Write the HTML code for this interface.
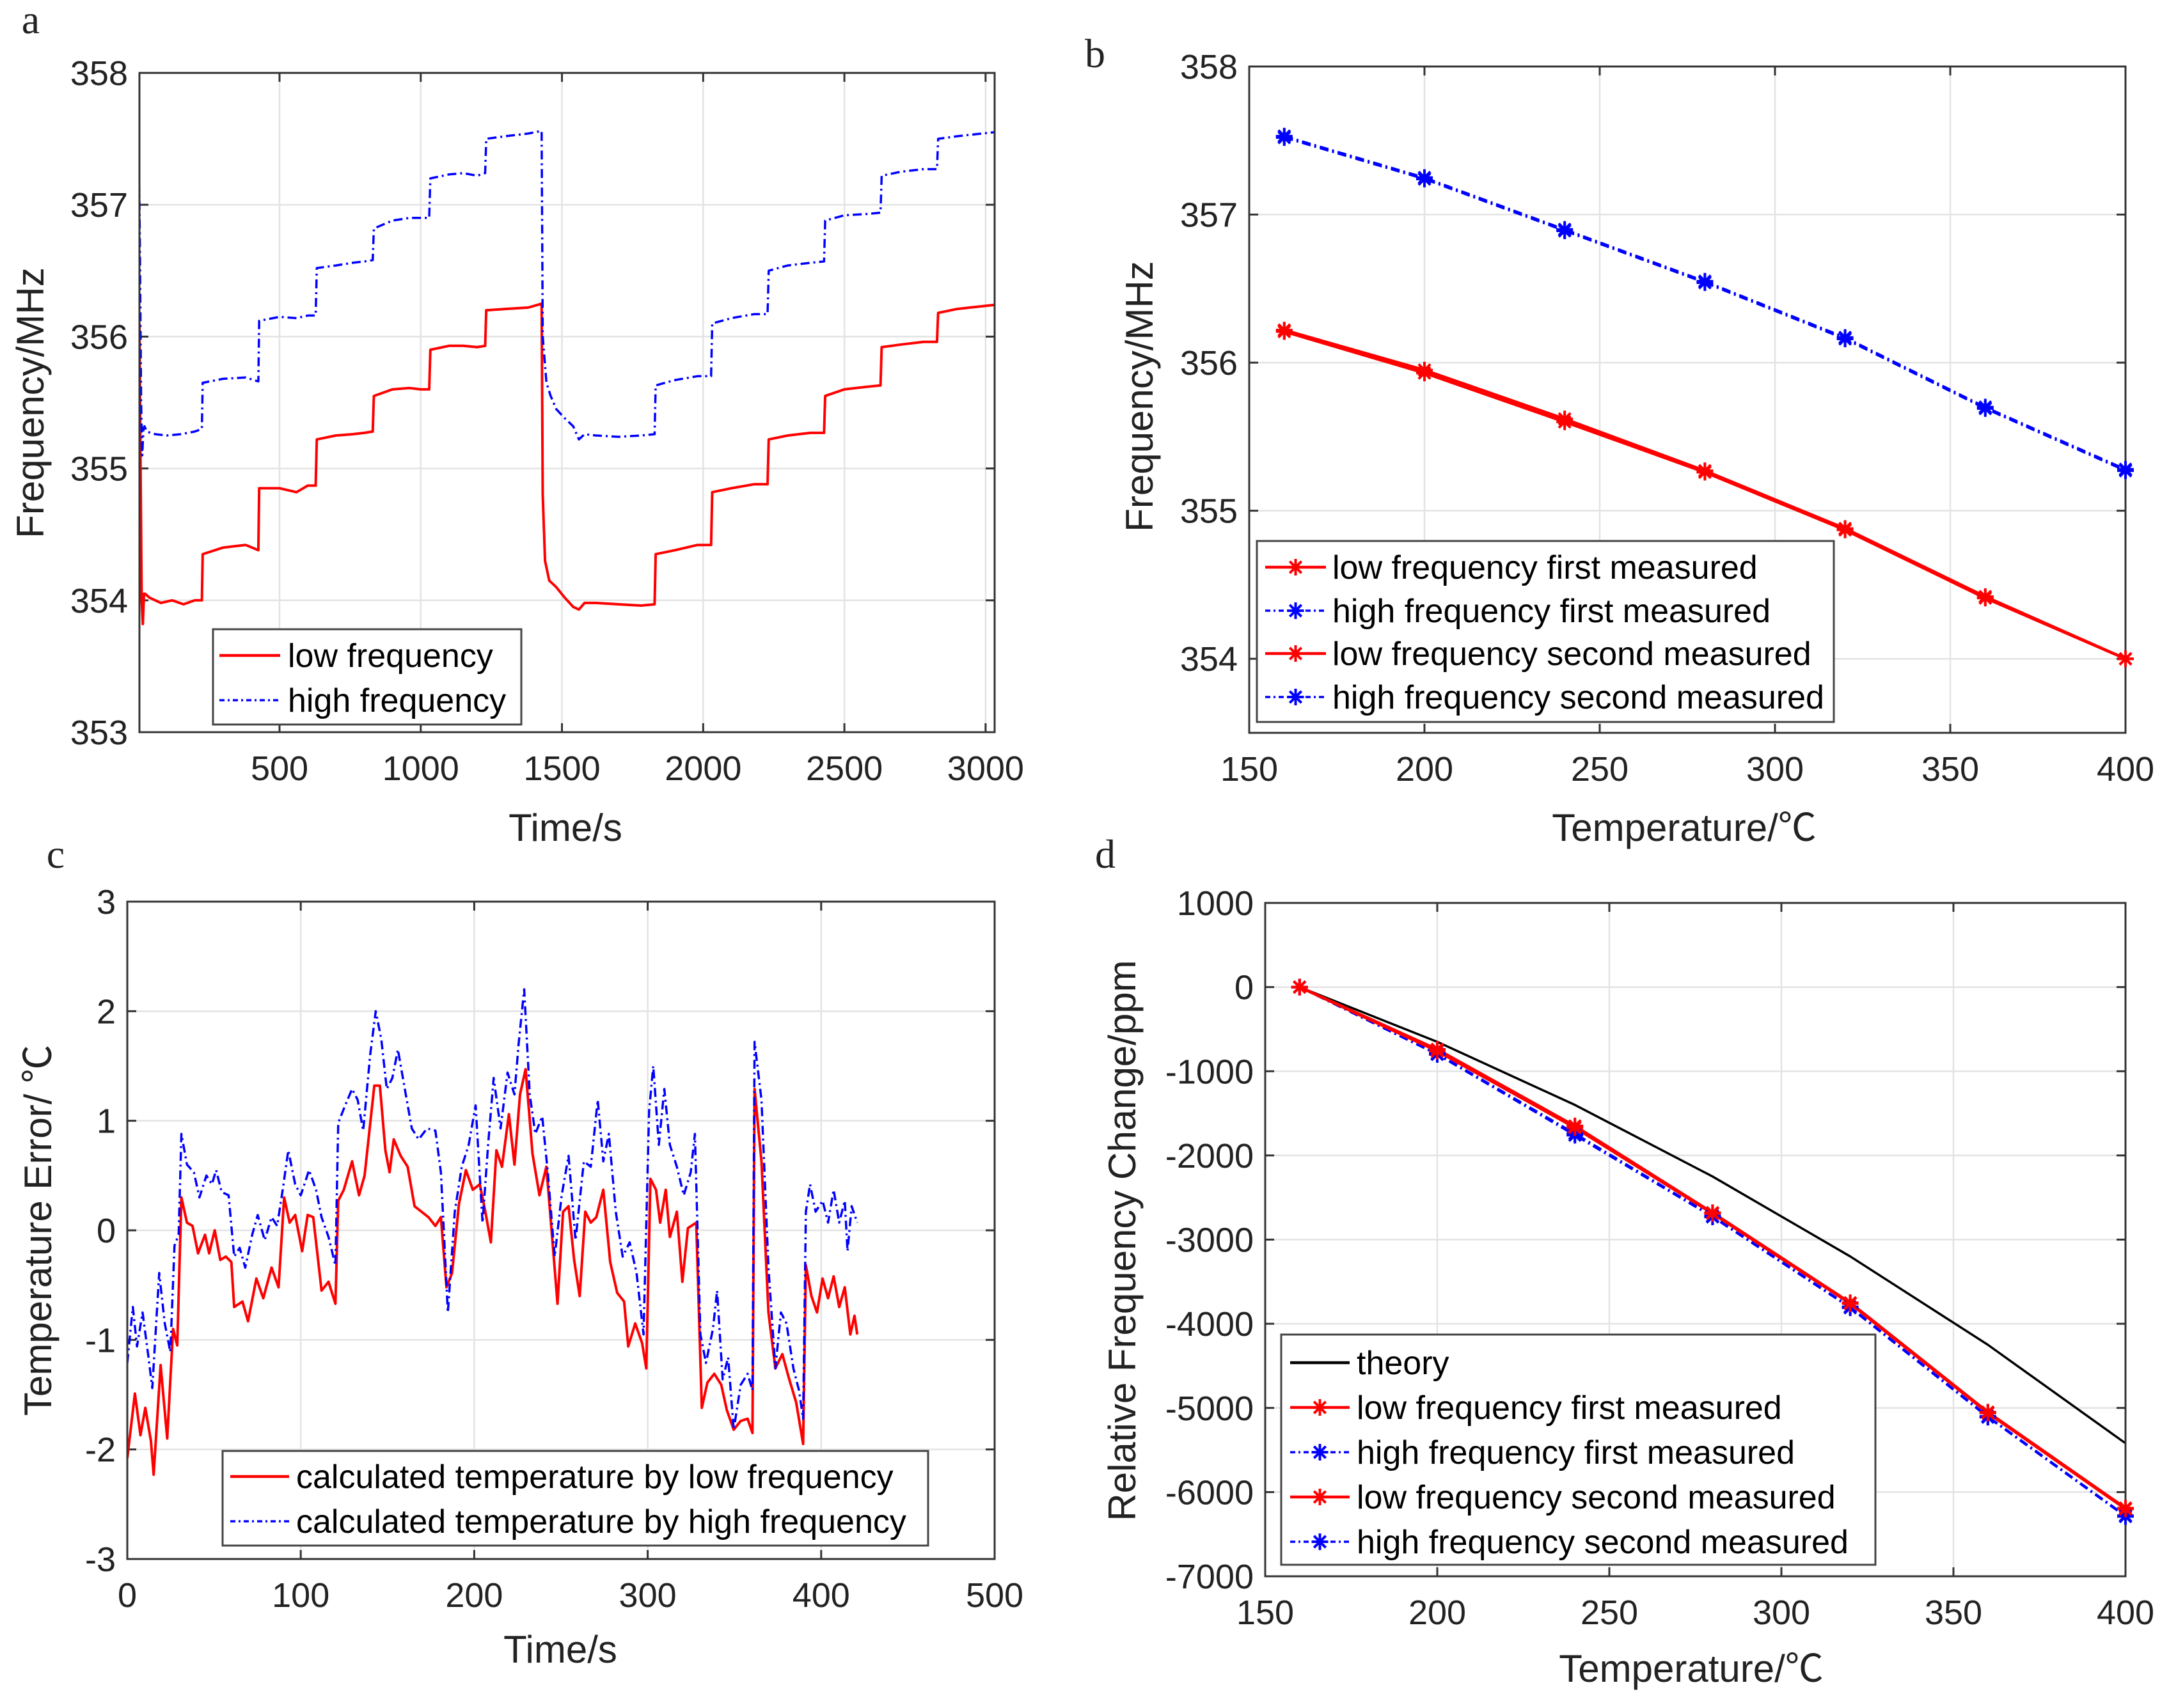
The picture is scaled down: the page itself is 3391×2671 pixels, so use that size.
<!DOCTYPE html>
<html><head><meta charset="utf-8">
<style>
html,body{margin:0;padding:0;background:#fff;}
svg{display:block;font-family:"Liberation Sans",Arial,sans-serif;}
</style></head>
<body>
<svg id="fig" width="3391" height="2671" viewBox="0 0 3391 2671" xmlns="http://www.w3.org/2000/svg"></svg>
<script>
// ---------- Panel a data ----------
const aLowT = [4,8,12,16,20,24,40,80,120,160,200,225,228,300,380,425,428,500,560,600,628,632,700,760,800,830,834,900,960,1000,1030,1034,1100,1150,1200,1228,1232,1300,1380,1428,1432,1440,1455,1480,1510,1540,1560,1580,1620,1700,1780,1828,1832,1900,1980,2028,2032,2100,2180,2228,2232,2300,2380,2428,2432,2500,2580,2628,2632,2700,2780,2828,2832,2900,3030];
const aLowV = [356.1,355.0,354.0,353.82,354.05,354.05,354.02,353.98,354.0,353.97,354.0,354.0,354.35,354.4,354.42,354.38,354.85,354.85,354.82,354.87,354.87,355.22,355.25,355.26,355.27,355.28,355.55,355.6,355.61,355.6,355.6,355.9,355.93,355.93,355.92,355.93,356.2,356.21,356.22,356.25,354.8,354.3,354.15,354.1,354.02,353.95,353.93,353.98,353.98,353.97,353.96,353.97,354.35,354.38,354.42,354.42,354.82,354.85,354.88,354.88,355.22,355.25,355.27,355.27,355.55,355.6,355.62,355.63,355.92,355.94,355.96,355.96,356.18,356.21,356.24];
const aHighT = [2,6,10,14,18,22,30,60,100,150,200,225,228,300,380,425,428,500,560,600,628,632,700,760,800,830,834,900,960,1000,1030,1034,1100,1150,1200,1228,1232,1300,1380,1428,1432,1445,1460,1480,1510,1540,1560,1580,1620,1700,1780,1828,1832,1900,1980,2028,2032,2100,2180,2228,2232,2300,2380,2428,2432,2500,2580,2628,2632,2700,2780,2828,2832,2900,3030];
const aHighV = [357.45,356.6,355.5,355.1,355.3,355.32,355.28,355.26,355.25,355.26,355.28,355.3,355.65,355.68,355.69,355.66,356.12,356.15,356.14,356.16,356.16,356.52,356.54,356.56,356.57,356.58,356.82,356.88,356.9,356.9,356.9,357.2,357.23,357.24,357.22,357.24,357.5,357.52,357.54,357.56,356.0,355.65,355.55,355.45,355.38,355.32,355.22,355.26,355.25,355.24,355.25,355.26,355.63,355.67,355.7,355.7,356.1,356.14,356.17,356.17,356.5,356.54,356.56,356.57,356.88,356.92,356.93,356.94,357.22,357.25,357.27,357.27,357.5,357.52,357.55];
const aYTicks = [353,354,355,356,357,358];
const aXTicks = [500,1000,1500,2000,2500,3000];

// ---------- Panel b data ----------
const bTemps = [160,200,240,280,320,360,400];
const bLow1 = [356.22,355.95,355.62,355.27,354.88,354.42,354.00];
const bHigh1 = [357.53,357.25,356.90,356.55,356.17,355.70,355.28];
const bLow2 = [356.21,355.93,355.60,355.26,354.87,354.41,354.00];
const bHigh2 = [357.52,357.24,356.89,356.54,356.16,355.69,355.27];
const bYTicks = [354,355,356,357,358];
const bXTicks = [150,200,250,300,350,400];

// ---------- Panel c data ----------
const cLowT = [0,4.4,7.6,10.4,13.6,15.2,19.2,23,26.4,28.8,31.2,34.4,37.6,40.8,44.8,47.2,50.4,53.6,56.8,60,61.6,66.4,69.6,74.4,78.4,83.2,87.2,90.4,93.6,96.8,100.8,104,107.2,112,116,120,121.6,124.8,129.6,133.6,136.8,142.4,145.6,148.8,151.2,153.6,157.6,161.6,165.6,169.6,173.6,177.6,180.8,184,187.2,191.2,195.2,199.2,203.2,206.4,209.6,212.8,216,220,223.2,226.4,229.6,233.6,237.6,241.6,244.8,248,251.2,254.4,257.6,260.8,264,267.2,270.4,274.4,278.4,282.4,286.4,288.8,292.8,296.8,299.2,301.6,304.8,307.2,310.4,312.8,316.8,320,323.2,328,331.2,334.4,338.4,342.4,345.6,349.6,353.6,357.6,360.4,361.6,365.6,369.6,373.6,377.6,381.6,385.6,389.6,391.2,394.4,397.6,400.8,404,407.2,410.4,413.6,416.8,419.2,420.8];
const cLowV = [-2.08,-1.49,-1.87,-1.62,-1.92,-2.23,-1.23,-1.9,-0.9,-1.05,0.3,0.07,0.04,-0.21,-0.04,-0.21,0,-0.27,-0.24,-0.29,-0.7,-0.65,-0.83,-0.44,-0.62,-0.34,-0.52,0.3,0.07,0.14,-0.19,0.14,0.12,-0.55,-0.47,-0.67,0.27,0.37,0.63,0.32,0.5,1.32,1.32,0.73,0.53,0.83,0.68,0.58,0.22,0.17,0.12,0.04,0.12,-0.52,-0.39,0.24,0.55,0.37,0.42,0.17,-0.11,0.73,0.58,1.06,0.6,1.24,1.47,0.7,0.32,0.58,-0.04,-0.67,0.17,0.22,-0.27,-0.6,0.17,0.07,0.12,0.37,-0.29,-0.57,-0.65,-1.06,-0.85,-1.03,-1.26,0.47,0.37,0.07,0.37,-0.06,0.17,-0.47,0.02,0.07,-1.62,-1.39,-1.31,-1.41,-1.64,-1.82,-1.74,-1.72,-1.85,1.29,0.63,-0.75,-1.26,-1.13,-1.36,-1.57,-1.95,-0.32,-0.6,-0.75,-0.44,-0.62,-0.42,-0.7,-0.52,-0.95,-0.78,-0.95];
const cHighT = [0,3.2,5.6,8.8,12,14.4,18.4,21.6,24.8,27.2,29.6,31.2,34.4,38.4,41.6,45.6,48.8,51.2,54.4,58.4,61.6,64.8,68,72,75.2,79.2,83.2,86.4,89.6,92.8,96.8,100,104.8,108.8,112,116,120,121.6,125.6,129.6,132.8,136,140,143.2,146.4,149.6,152.8,156,160,164,168,172.8,177.6,180.8,184.8,188.8,192.8,196.8,200.8,204.8,208,211.2,215.2,219.2,223.2,225.6,228.8,232,235.2,239.2,242.4,246.4,250.4,254.4,258.4,263.2,267.2,271.2,274.4,277.6,281.6,285.6,289.6,293.6,297.6,300.8,303.2,306.4,309.6,312.8,316.8,320.8,324.8,327.2,330.4,333.6,337.6,340,343.2,346.4,349.6,353.6,357.6,360.4,361.6,365.6,369.6,373.6,376.8,380,384,387.2,389.6,391.2,393.6,396.8,400.8,404,407.2,410.4,413.6,415.2,417.6,420.8];
const cHighV = [-1.21,-0.7,-1.06,-0.75,-1.13,-1.44,-0.39,-0.85,-1.11,-0.14,-0.04,0.88,0.6,0.53,0.3,0.5,0.42,0.55,0.35,0.32,-0.24,-0.16,-0.34,-0.04,0.14,-0.09,0.12,0.04,0.37,0.73,0.42,0.32,0.55,0.37,0.12,-0.06,-0.32,0.98,1.14,1.29,1.19,0.91,1.6,2.0,1.75,1.29,1.39,1.65,1.29,0.93,0.83,0.93,0.91,0.53,-0.75,0.17,0.58,0.78,1.14,0.07,0.78,1.39,0.93,1.44,1.24,1.7,2.2,1.24,0.88,1.04,0.53,-0.24,0.32,0.68,-0.09,0.63,0.58,1.19,0.63,0.88,0.17,-0.24,-0.11,-0.39,-0.95,1.09,1.5,0.78,1.29,0.78,0.58,0.32,0.53,0.88,-0.95,-1.21,-0.9,-0.55,-1.36,-1.16,-1.82,-1.41,-1.31,-1.46,1.72,1.19,-0.34,-1.26,-0.75,-0.85,-1.26,-1.46,-1.72,0.17,0.42,0.17,0.27,0.07,0.37,0.07,0.27,-0.19,0.22,0.07];
const cYTicks = [-3,-2,-1,0,1,2,3];
const cXTicks = [0,100,200,300,400,500];

// ---------- Panel d data ----------
const dTemps = [160,200,240,280,320,360,400];
const dTheory = [0,-650,-1400,-2250,-3200,-4250,-5420];
const dLow1 = [0,-740,-1650,-2680,-3750,-5050,-6190];
const dHigh1 = [0,-790,-1740,-2720,-3800,-5100,-6280];
const dLow2 = [0,-760,-1670,-2690,-3760,-5060,-6200];
const dHigh2 = [0,-800,-1760,-2730,-3810,-5110,-6290];
const dYTicks = [-7000,-6000,-5000,-4000,-3000,-2000,-1000,0,1000];
const dXTicks = [150,200,250,300,350,400];

const NS = "http://www.w3.org/2000/svg";
const fig = document.getElementById('fig');
function mk(tag, attrs, parent){
  const e = document.createElementNS(NS, tag);
  for (const k in attrs) e.setAttribute(k, attrs[k]);
  (parent||fig).appendChild(e);
  return e;
}
const RED = "#ff0000", BLUE = "#0000ff";
const DASH = "14,6,3,6";

function makeAxes(name, box, xlim, ylim, xticks, yticks){
  const g = mk('g', {});
  
  
  const sx = v => box.l + (v - xlim[0]) / (xlim[1]-xlim[0]) * (box.r - box.l);
  const sy = v => box.b - (v - ylim[0]) / (ylim[1]-ylim[0]) * (box.b - box.t);
  const grid = mk('g', {}, g);
  
  
  xticks.forEach(t => {
    const x = sx(t);
    mk('line', {x1:x, x2:x, y1:box.t, y2:box.b, stroke:'#e3e3e3', 'stroke-width':2.5}, grid);
  });
  yticks.forEach(t => {
    const y = sy(t);
    mk('line', {x1:box.l, x2:box.r, y1:y, y2:y, stroke:'#e3e3e3', 'stroke-width':2.5}, grid);
  });
  const xt = mk('g', {}, g);
  
  
  xticks.forEach(t => {
    const x = sx(t);
    mk('line', {x1:x, x2:x, y1:box.b, y2:box.b-14, stroke:'#333', 'stroke-width':3}, xt);
    mk('line', {x1:x, x2:x, y1:box.t, y2:box.t+14, stroke:'#333', 'stroke-width':3}, xt);
    const tx = mk('text', {x:x, y:box.b+75, 'font-size':54, 'text-anchor':'middle', fill:'#222'}, xt);
    tx.textContent = t;
  });
  const yt = mk('g', {}, g);
  
  
  yticks.forEach(t => {
    const y = sy(t);
    mk('line', {x1:box.l, x2:box.l+14, y1:y, y2:y, stroke:'#333', 'stroke-width':3}, yt);
    mk('line', {x1:box.r, x2:box.r-14, y1:y, y2:y, stroke:'#333', 'stroke-width':3}, yt);
    const ty = mk('text', {x:box.l-18, y:y+19, 'font-size':54, 'text-anchor':'end', fill:'#222'}, yt);
    ty.textContent = t;
  });
  const clipId = name + '-clip';
  const cp = mk('clipPath', {id:clipId}, g);
  mk('rect', {x:box.l, y:box.t, width:box.r-box.l, height:box.b-box.t}, cp);
  const plot = mk('g', {'clip-path':'url(#'+clipId+')'}, g);
  
  
  const frame = mk('rect', {x:box.l, y:box.t, width:box.r-box.l, height:box.b-box.t, fill:'none', stroke:'#333', 'stroke-width':3}, g);
  
  
  return {g, sx, sy, plot, box};
}
function line(ax, xs, ys, color, width, dash, nm){
  const d = xs.map((x,i) => (i?'L':'M') + ax.sx(x).toFixed(1) + ' ' + ax.sy(ys[i]).toFixed(1)).join(' ');
  const p = mk('path', {d:d, fill:'none', stroke:color, 'stroke-width':width, 'stroke-linejoin':'round'}, ax.plot);
  if (dash) p.setAttribute('stroke-dasharray', dash);
  
  
  return p;
}
function star(parent, x, y, color, r){
  const g = mk('g', {stroke:color, 'stroke-width':4}, parent);
  for (let k=0;k<4;k++){
    const a = k*Math.PI/4;
    mk('line', {x1:x-r*Math.cos(a), y1:y-r*Math.sin(a), x2:x+r*Math.cos(a), y2:y+r*Math.sin(a)}, g);
  }
  return g;
}
function markers(ax, xs, ys, color, nm){
  const g = mk('g', {}, ax.g);
  
  
  xs.forEach((x,i) => {
    const m = star(g, ax.sx(x), ax.sy(ys[i]), color, 13);
    
    
  });
}
function legend(name, x, y, w, h, entries, rowY, lineL, lineR, textX){
  const g = mk('g', {});
  
  
  mk('rect', {x:x, y:y, width:w, height:h, fill:'#fff', stroke:'#444', 'stroke-width':3}, g);
  entries.forEach((e,i) => {
    const eg = mk('g', {}, g);
    
    
    const by = rowY[i];
    const ly = by - 18;
    const l = mk('line', {x1:lineL, x2:lineR, y1:ly, y2:ly, stroke:e.color, 'stroke-width':e.dash?3.5:4.5}, eg);
    if (e.dash) l.setAttribute('stroke-dasharray', '8,5,3,5');
    if (e.marker) star(eg, (lineL+lineR)/2, ly, e.color, 13);
    const t = mk('text', {x:textX, y:by, 'font-size':52, fill:'#000'}, eg);
    t.textContent = e.label;
  });
}
function label(txt, x, y, size, nm, rot, family){
  const t = mk('text', {x:x, y:y, 'font-size':size, 'text-anchor':'middle', fill:'#222'});
  if (rot) t.setAttribute('transform', 'rotate(-90 '+x+' '+y+')');
  if (family) t.setAttribute('font-family', family);
  t.textContent = txt;
  
  
  return t;
}
const SERIF = '"Liberation Serif","Times New Roman",serif';
const CJK = '"Liberation Sans","Noto Sans CJK SC",sans-serif';

// ---- Panel a ----
const A = makeAxes('panel-a', {l:218,r:1555,t:114,b:1145}, [4,3032], [353,358], aXTicks, aYTicks);
line(A, aLowT, aLowV, RED, 4, null, 'low-frequency-line');
line(A, aHighT, aHighV, BLUE, 3.5, DASH, 'high-frequency-line');
legend('panel-a-legend', 333, 984, 482, 149,
  [{label:'low frequency', color:RED}, {label:'high frequency', color:BLUE, dash:true}],
  [1043,1113], 343, 438, 450);
label('Frequency/MHz', 68, 630, 60, 'panel-a-y-axis-title', true);
label('Time/s', 884, 1315, 60, 'panel-a-x-axis-title');
label('a', 48, 52, 64, 'panel-a-label', false, SERIF);

// ---- Panel b ----
const B = makeAxes('panel-b', {l:1953,r:3323,t:104,b:1146}, [150,400], [353.5,358], bXTicks, bYTicks);
line(B, bTemps, bLow1, RED, 4.5, null, 'b-low-first-line');
line(B, bTemps, bLow2, RED, 4.5, null, 'b-low-second-line');
line(B, bTemps, bHigh1, BLUE, 3.5, DASH, 'b-high-first-line');
line(B, bTemps, bHigh2, BLUE, 3.5, DASH, 'b-high-second-line');
markers(B, bTemps, bLow1, RED, 'b-low-first-markers');
markers(B, bTemps, bLow2, RED, 'b-low-second-markers');
markers(B, bTemps, bHigh1, BLUE, 'b-high-first-markers');
markers(B, bTemps, bHigh2, BLUE, 'b-high-second-markers');
legend('panel-b-legend', 1965, 846, 902, 283,
  [{label:'low frequency first measured', color:RED, marker:true},
   {label:'high frequency first measured', color:BLUE, dash:true, marker:true},
   {label:'low frequency second measured', color:RED, marker:true},
   {label:'high frequency second measured', color:BLUE, dash:true, marker:true}],
  [905,973,1040,1108], 1978, 2073, 2083);
label('Frequency/MHz', 1802, 620, 60, 'panel-b-y-axis-title', true);
label('Temperature/℃', 2633, 1315, 60, 'panel-b-x-axis-title', false, CJK);
label('b', 1712, 105, 64, 'panel-b-label', false, SERIF);

// ---- Panel c ----
const C = makeAxes('panel-c', {l:199,r:1555,t:1410,b:2438}, [0,500], [-3,3], cXTicks, cYTicks);
line(C, cLowT, cLowV, RED, 4, null, 'c-low-frequency-line');
line(C, cHighT, cHighV, BLUE, 3.5, DASH, 'c-high-frequency-line');
legend('panel-c-legend', 348, 2269, 1103, 148,
  [{label:'calculated temperature by low frequency', color:RED},
   {label:'calculated temperature by high frequency', color:BLUE, dash:true}],
  [2327,2397], 360, 452, 463);
label('Temperature Error/ ℃', 80, 1924, 60, 'panel-c-y-axis-title', true, CJK);
label('Time/s', 876, 2600, 60, 'panel-c-x-axis-title');
label('c', 87, 1357, 64, 'panel-c-label', false, SERIF);

// ---- Panel d ----
const D = makeAxes('panel-d', {l:1978,r:3323,t:1412,b:2465}, [150,400], [-7000,1000], dXTicks, dYTicks);
line(D, dTemps, dTheory, '#000', 3.5, null, 'd-theory-line');
line(D, dTemps, dHigh1, BLUE, 3.5, DASH, 'd-high-first-line');
line(D, dTemps, dHigh2, BLUE, 3.5, DASH, 'd-high-second-line');
line(D, dTemps, dLow1, RED, 4.5, null, 'd-low-first-line');
line(D, dTemps, dLow2, RED, 4.5, null, 'd-low-second-line');
markers(D, dTemps, dHigh1, BLUE, 'd-high-first-markers');
markers(D, dTemps, dHigh2, BLUE, 'd-high-second-markers');
markers(D, dTemps, dLow1, RED, 'd-low-first-markers');
markers(D, dTemps, dLow2, RED, 'd-low-second-markers');
legend('panel-d-legend', 2003, 2087, 929, 360,
  [{label:'theory', color:'#000'},
   {label:'low frequency first measured', color:RED, marker:true},
   {label:'high frequency first measured', color:BLUE, dash:true, marker:true},
   {label:'low frequency second measured', color:RED, marker:true},
   {label:'high frequency second measured', color:BLUE, dash:true, marker:true}],
  [2149,2219,2289,2359,2429], 2017, 2110, 2121);
label('Relative Frequency Change/ppm', 1775, 1940, 60, 'panel-d-y-axis-title', true);
label('Temperature/℃', 2644, 2630, 60, 'panel-d-x-axis-title', false, CJK);
label('d', 1728, 1357, 64, 'panel-d-label', false, SERIF);
</script>
</body></html>
